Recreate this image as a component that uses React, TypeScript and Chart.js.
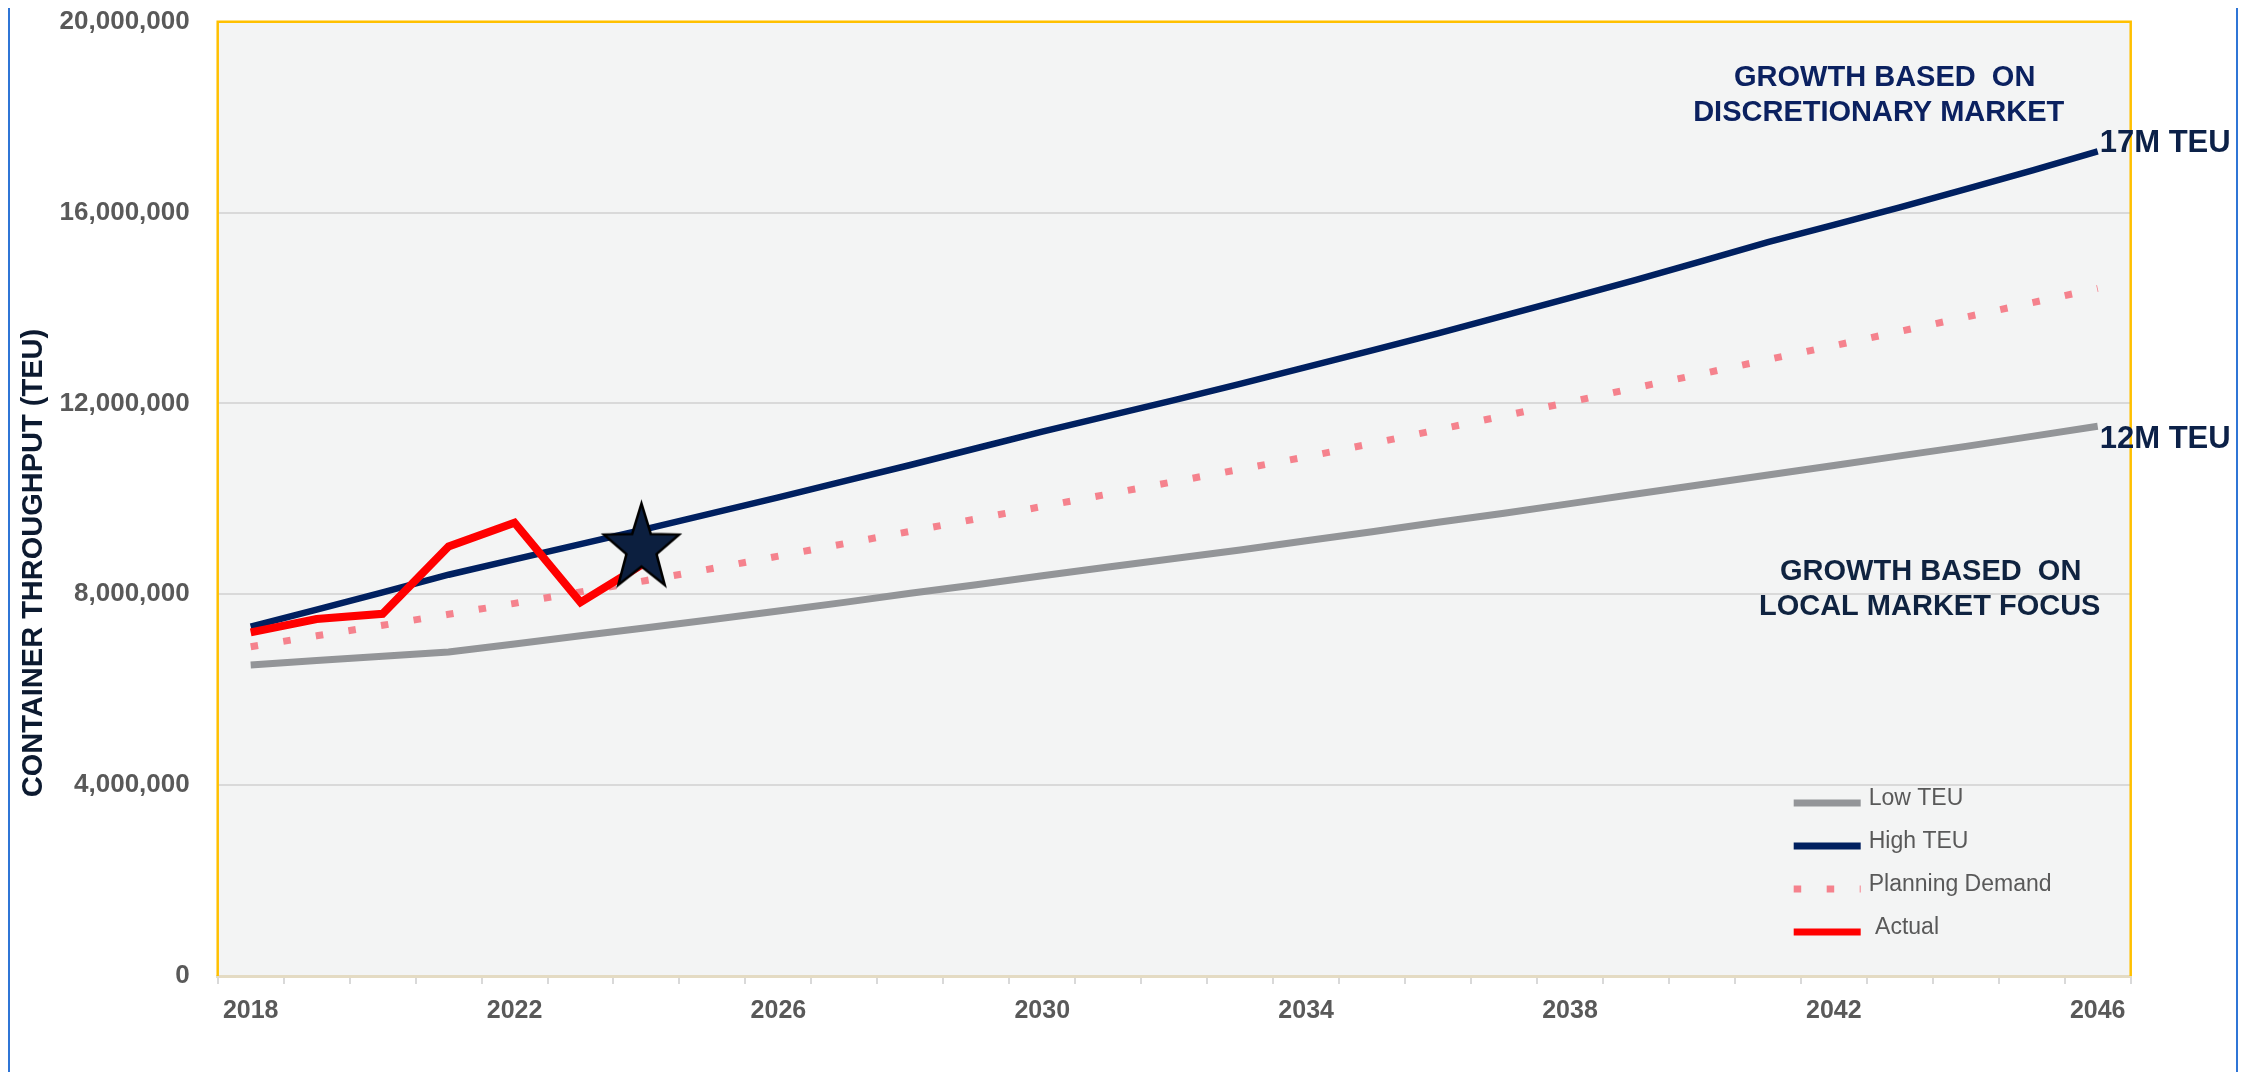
import React, { useEffect, useRef } from 'react';
import { Chart, registerables } from 'chart.js';

Chart.register(...registerables);

// ---------- data ----------
const years = [
  '2018', '2019', '2020', '2021', '2022', '2023', '2024', '2025', '2026', '2027',
  '2028', '2029', '2030', '2031', '2032', '2033', '2034', '2035', '2036', '2037',
  '2038', '2039', '2040', '2041', '2042', '2043', '2044', '2045', '2046',
];

const xTickLabels = ['2018', '2022', '2026', '2030', '2034', '2038', '2042', '2046'];

const lowTEU = [
  6520000, 6610000, 6700000, 6790000, 6960000, 7130000, 7300000, 7470000, 7650000, 7830000,
  8020000, 8200000, 8390000, 8570000, 8750000, 8930000, 9120000, 9310000, 9510000, 9700000,
  9900000, 10100000, 10300000, 10500000, 10700000, 10900000, 11100000, 11310000, 11520000,
];

const highTEU = [
  7320000, 7680000, 8040000, 8410000, 8730000, 9050000, 9370000, 9700000, 10030000, 10370000,
  10710000, 11060000, 11410000, 11740000, 12070000, 12410000, 12760000, 13110000, 13470000, 13840000,
  14210000, 14590000, 14980000, 15380000, 15740000, 16110000, 16490000, 16880000, 17280000,
];

const planningDemand = [
  6900000, 7130000, 7350000, 7580000, 7810000, 8050000, 8290000, 8540000, 8800000, 9060000,
  9320000, 9580000, 9840000, 10100000, 10360000, 10620000, 10880000, 11160000, 11450000, 11740000,
  12030000, 12330000, 12620000, 12920000, 13210000, 13510000, 13810000, 14110000, 14410000,
];

const actual = [
  7200000, 7480000, 7590000, 9000000, 9500000, 7830000, 8680000, null, null, null,
  null, null, null, null, null, null, null, null, null, null,
  null, null, null, null, null, null, null, null, null,
];

const starYear = '2024';
const starValue = 8960000;

const yMin = 0;
const yMax = 20000000;
const yStep = 4000000;

const seriesLabels = ['Low TEU', 'High TEU', 'Planning Demand', ' Actual'];

const topNote = ['GROWTH BASED  ON', 'DISCRETIONARY MARKET'];
const bottomNote = ['GROWTH BASED  ON', 'LOCAL MARKET FOCUS'];
const highEndLabel = '17M TEU';
const lowEndLabel = '12M TEU';
const yTitle = 'CONTAINER THROUGHPUT (TEU)';

// ---------- styling ----------
const FONT = '"Liberation Sans", Arial, Helvetica, sans-serif';
const NAVY = '#002060';
const GRAY = '#939598';
const PINK = '#f5828d';
const RED = '#ff0000';

function makeStarImage(Rx: number, Ry: number, dx: number): HTMLCanvasElement {
  const w = Math.ceil(Rx * 2 + Math.abs(dx) * 2 + 10);
  const h = Math.ceil(Ry * 2 + 10);
  const c = document.createElement('canvas');
  c.width = w;
  c.height = h;
  const g = c.getContext('2d') as CanvasRenderingContext2D;
  const cx = w / 2 + dx;
  const cy = h / 2;
  const k = 0.4;
  g.beginPath();
  for (let i = 0; i < 10; i++) {
    const f = i % 2 === 0 ? 1 : k;
    const ang = -Math.PI / 2 + (i * Math.PI) / 5;
    const px = cx + Rx * f * Math.cos(ang);
    const py = cy + Ry * f * Math.sin(ang);
    if (i === 0) g.moveTo(px, py);
    else g.lineTo(px, py);
  }
  g.closePath();
  g.fillStyle = '#0c1f3f';
  g.fill();
  g.lineWidth = 2.5;
  g.strokeStyle = '#000000';
  g.lineJoin = 'miter';
  g.stroke();
  return c;
}

const framePlugin = {
  id: 'frameAndNotes',
  beforeDraw(chart: any) {
    const { ctx, chartArea: a } = chart;
    ctx.save();
    ctx.fillStyle = '#f3f4f4';
    ctx.fillRect(a.left, a.top, a.right - a.left, a.bottom - a.top);
    ctx.restore();
  },
  beforeDatasetsDraw(chart: any) {
    const { ctx, chartArea: a } = chart;
    ctx.save();
    ctx.strokeStyle = '#ffc000';
    ctx.lineWidth = 2.5;
    ctx.beginPath();
    ctx.moveTo(a.left, a.bottom);
    ctx.lineTo(a.left, a.top);
    ctx.lineTo(a.right, a.top);
    ctx.lineTo(a.right, a.bottom);
    ctx.stroke();
    ctx.restore();
  },
  afterDraw(chart: any) {
    const { ctx, chartArea: a, scales } = chart;
    const xs = scales.x;
    const ys = scales.y;
    ctx.save();

    // y-axis title
    ctx.save();
    ctx.translate(24, 555);
    ctx.rotate(-Math.PI / 2);
    ctx.font = `bold 29px ${FONT}`;
    ctx.fillStyle = '#0c1a30';
    ctx.textAlign = 'center';
    ctx.textBaseline = 'middle';
    ctx.fillText(yTitle, 0, 0);
    ctx.restore();

    // notes
    ctx.font = `bold 29px ${FONT}`;
    ctx.textAlign = 'center';
    ctx.textBaseline = 'middle';
    ctx.fillStyle = '#0b2160';
    ctx.fillText(topNote[0], a.right - 246, a.top + 56);
    ctx.fillText(topNote[1], a.right - 252, a.top + 91);
    ctx.fillStyle = '#0f2340';
    ctx.fillText(bottomNote[0], a.right - 200, a.top + 550);
    ctx.fillText(bottomNote[1], a.right - 201, a.top + 585);

    // end labels
    const last = years.length - 1;
    const xEnd = xs.getPixelForValue(last);
    ctx.font = `bold 31px ${FONT}`;
    ctx.textAlign = 'left';
    ctx.fillStyle = '#0c2148';
    ctx.fillText(highEndLabel, xEnd + 2, ys.getPixelForValue(highTEU[last]) - 8);
    ctx.fillText(lowEndLabel, xEnd + 2, ys.getPixelForValue(lowTEU[last]) + 13);

    // legend
    const lx0 = a.right - 337;
    const lx1 = a.right - 270;
    const tx = a.right - 262;
    const ly0 = a.bottom - 173;
    ctx.font = `23px ${FONT}`;
    ctx.textAlign = 'left';
    ctx.textBaseline = 'alphabetic';
    for (let i = 0; i < 4; i++) {
      const ds = chart.data.datasets[i];
      const y = ly0 + i * 43;
      ctx.save();
      ctx.strokeStyle = ds.borderColor;
      ctx.lineWidth = 7;
      ctx.lineCap = 'butt';
      ctx.setLineDash(ds.borderDash || []);
      ctx.beginPath();
      ctx.moveTo(lx0, y);
      ctx.lineTo(lx1, y);
      ctx.stroke();
      ctx.restore();
      ctx.fillStyle = '#595959';
      ctx.fillText(ds.label, tx, y + 2);
    }
    ctx.restore();
  },
};

export default function App() {
  const canvasRef = useRef<HTMLCanvasElement | null>(null);

  useEffect(() => {
    document.documentElement.style.overflow = 'hidden';
    document.body.style.overflow = 'hidden';
    const canvas = canvasRef.current;
    if (!canvas) return;
    const starImg = makeStarImage(39.5, 45, -5);
    const starData = years.map((y) => (y === starYear ? starValue : null));

    const chart = new Chart(canvas, {
      type: 'line',
      data: {
        labels: years,
        datasets: [
          {
            label: seriesLabels[0],
            data: lowTEU,
            borderColor: GRAY,
            backgroundColor: GRAY,
            borderWidth: 7,
            pointRadius: 0,
            tension: 0,
            order: 4,
          },
          {
            label: seriesLabels[1],
            data: highTEU,
            borderColor: NAVY,
            backgroundColor: NAVY,
            borderWidth: 6.5,
            pointRadius: 0,
            tension: 0,
            order: 2,
          },
          {
            label: seriesLabels[2],
            data: planningDemand,
            borderColor: PINK,
            backgroundColor: PINK,
            borderWidth: 7,
            borderDash: [7.5, 25.5],
            borderCapStyle: 'butt',
            pointRadius: 0,
            tension: 0,
            order: 3,
          },
          {
            label: seriesLabels[3],
            data: actual,
            borderColor: RED,
            backgroundColor: RED,
            borderWidth: 8,
            borderJoinStyle: 'miter',
            pointRadius: 0,
            tension: 0,
            spanGaps: false,
            order: 1,
          },
          {
            label: 'Current',
            data: starData,
            showLine: false,
            pointStyle: starImg as any,
            pointRadius: 42,
            pointHoverRadius: 42,
            order: 0,
          },
        ] as any,
      },
      options: {
        responsive: false,
        animation: false,
        events: [],
        layout: { autoPadding: false, padding: { left: 0, top: 13.7, right: 105.3, bottom: 0 } },
        plugins: {
          legend: { display: false },
          tooltip: { enabled: false },
          title: { display: false },
        },
        scales: {
          x: {
            type: 'category',
            offset: true,
            grid: {
              offset: true,
              drawOnChartArea: false,
              drawTicks: true,
              tickLength: 8,
              color: '#d9d9d9',
              lineWidth: 2,
            },
            border: { display: true, color: '#e4dbc3', width: 3 },
            ticks: {
              autoSkip: false,
              maxRotation: 0,
              minRotation: 0,
              padding: 15,
              color: '#595959',
              font: { family: FONT, size: 25, weight: 'bold', lineHeight: 1 },
              callback: (_v: any, i: number) => (xTickLabels.includes(years[i]) ? years[i] : ''),
            },
            afterFit: (s: any) => {
              s.height = 96;
            },
          },
          y: {
            min: yMin,
            max: yMax,
            ticks: {
              stepSize: yStep,
              padding: 0,
              color: '#595959',
              font: { family: FONT, size: 26, weight: 'bold', lineHeight: 1 },
              callback: (v: any) => Number(v).toLocaleString('en-US'),
            },
            grid: {
              color: '#d9d9d9',
              lineWidth: 2,
              drawTicks: true,
              tickLength: 28,
              tickColor: 'rgba(0,0,0,0)',
            },
            border: { display: false },
            afterFit: (s: any) => {
              s.width = 207.7;
            },
          },
        } as any,
      },
      plugins: [framePlugin],
    });
    return () => chart.destroy();
  }, []);

  return (
    <div
      style={{
        marginTop: -2,
        borderTop: '2px solid #2f75d6',
        borderLeft: '2px solid #2f75d6',
        borderRight: '2px solid #2f75d6',
        width: 2226,
        height: 1064,
        position: 'relative',
        background: '#ffffff',
      }}
    >
      <canvas ref={canvasRef} width={2226} height={1064} style={{ display: 'block' }} />
    </div>
  );
}
